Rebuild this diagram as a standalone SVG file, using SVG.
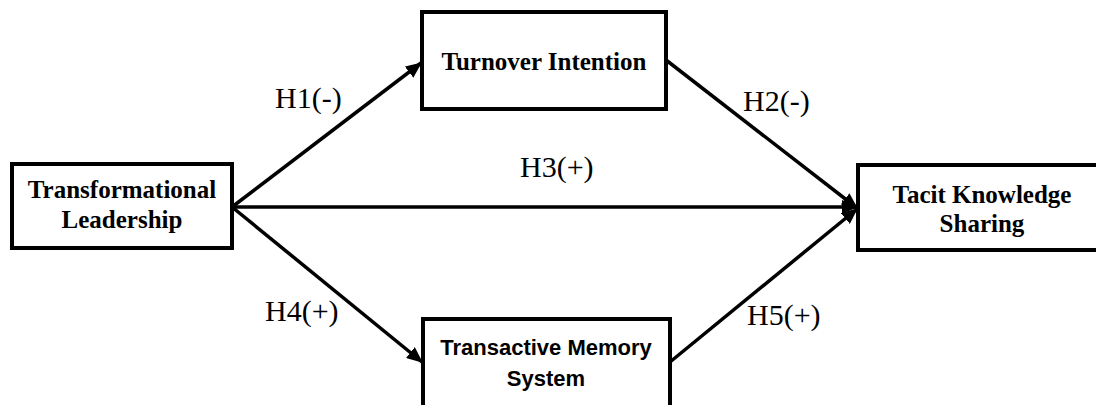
<svg xmlns="http://www.w3.org/2000/svg" width="1096" height="405" viewBox="0 0 1096 405">
<defs>
<marker id="arr" markerUnits="userSpaceOnUse" markerWidth="16" markerHeight="14" refX="15" refY="7" orient="auto">
<path d="M0,0 L16,7 L0,14 z" fill="#000"/>
</marker>
<style>
.box{fill:#fff;stroke:#000;stroke-width:4}
.edge{stroke:#000;stroke-width:3.5;fill:none}
.serif{font-family:"Liberation Serif","Times New Roman",serif;font-weight:bold;font-size:25px;fill:#000;text-anchor:middle}
.sans{font-family:"Liberation Sans",Arial,sans-serif;font-weight:bold;font-size:22px;fill:#000;text-anchor:middle}
.lbl{font-family:"Liberation Serif","Times New Roman",serif;font-size:30px;fill:#000}
</style>
</defs>
<rect width="1096" height="405" fill="#fff"/>
<g id="connectors">
<line class="edge" x1="232" y1="207" x2="421" y2="63" marker-end="url(#arr)"/>
<line class="edge" x1="232" y1="207" x2="857" y2="207" marker-end="url(#arr)"/>
<line class="edge" x1="666" y1="60" x2="857" y2="208" marker-end="url(#arr)"/>
<line class="edge" x1="232" y1="207" x2="422" y2="362" marker-end="url(#arr)"/>
<line class="edge" x1="670" y1="362" x2="857" y2="209" marker-end="url(#arr)"/>
</g>
<g id="labels">
<text class="lbl" x="275" y="108">H1(-)</text>
<text class="lbl" x="743" y="111">H2(-)</text>
<text class="lbl" x="520" y="177">H3(+)</text>
<text class="lbl" x="265" y="321">H4(+)</text>
<text class="lbl" x="747" y="325">H5(+)</text>
</g>
<g id="node-tl">
<rect class="box" x="12" y="164" width="220" height="84"/>
<text class="serif" x="122" y="198">Transformational</text>
<text class="serif" x="122" y="228">Leadership</text>
</g>
<g id="node-ti">
<rect class="box" x="422" y="12" width="244" height="97"/>
<text class="serif" x="544" y="70">Turnover Intention</text>
</g>
<g id="node-tms">
<rect class="box" x="423" y="319" width="247" height="100"/>
<text class="sans" x="546" y="355">Transactive Memory</text>
<text class="sans" x="546" y="386">System</text>
</g>
<g id="node-tks">
<rect class="box" x="858" y="165" width="250" height="85"/>
<text class="serif" x="982" y="203">Tacit Knowledge</text>
<text class="serif" x="982" y="232">Sharing</text>
</g>
</svg>
